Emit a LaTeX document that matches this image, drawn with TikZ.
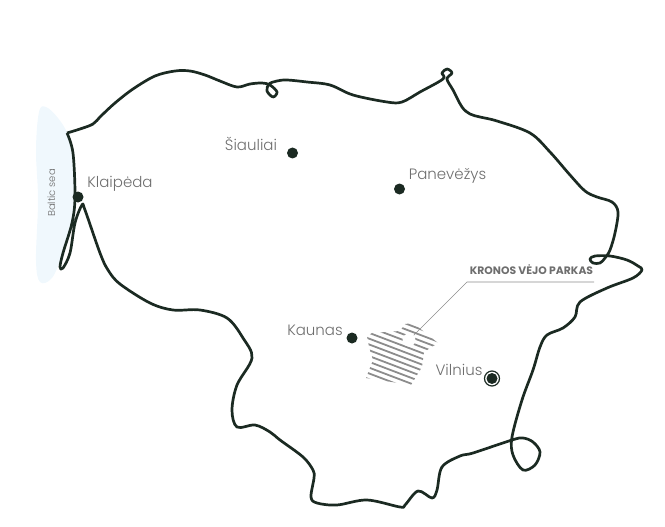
\documentclass[tikz,border=0pt]{standalone}
\usepackage{fontspec}
\setmainfont{Poppins Light}[BoldFont={Poppins Bold}]
\definecolor{border}{HTML}{1B2A22}
\definecolor{sea}{HTML}{F0F8FD}
\definecolor{labelgray}{HTML}{6E6E6E}
\definecolor{hatchgray}{HTML}{8C8C8C}
\tikzset{
  citydot/.style={circle,fill=border,inner sep=0pt,minimum size=11pt},
  citylabel/.style={text=labelgray,font=\fontsize{15}{17}\selectfont,inner sep=0pt},
}

\begin{document}
\begin{tikzpicture}[x=1pt,y=-1pt]
\useasboundingbox (0,0) rectangle (665,527);

% sea
\fill [sea] plot [smooth cycle,tension=.6] coordinates {(39,112) (46,107) (58,118) (68,135) (73,160) (74,197) (71,225) (62,255) (52,278) (40,282) (36,260) (38,200) (36,150)};
\node [citylabel,rotate=90,font=\fontsize{10}{12}\selectfont] (sealabel) at (51.5,193) {Baltic sea};

% park
\begin{scope}
\clip (367,336) -- (372,333) -- (400,331) -- (405,324) -- (413,323) -- (438,343) -- (424,352) -- (422,367) -- (411,385) -- (366,378) -- (373,360) -- (369,347) -- cycle;
\foreach \y in {285,290.8,...,385}
  \draw [hatchgray,line width=1.8pt] (350,\y) -- (450,\y+38);
\end{scope}
\node [circle,fill=white,inner sep=0pt,minimum size=13pt] (parkhole) at (409,340) {};

\node [text=labelgray,font=\fontsize{10.8}{12}\selectfont\bfseries,inner sep=0pt] (parklabel) at (531.5,270) {KRONOS VĖJO PARKAS};
\coordinate (leaderend) at (594,282);
\coordinate (leaderknee) at (467,282);
\draw [hatchgray,line width=.6pt] (leaderend) -- (leaderknee) -- (parkhole);

% border
\draw [border,line width=2.7pt,line join=round] plot [smooth,tension=.55] coordinates {
  (67,133) (80,129) (93,124) (101,116) (115,103) (133,89) (155,76) (175,71) (190,71) (205,75) (220,81) (237,87) (250,84) (262,83)
  (270,85) (277,92) (273,97) (267,91) (269,84) (277,81) (287,80) (307,82) (330,85) (353,95) (387,102) (402,102) (420,92) (443,79)
  (442,73) (447,69) (452,73) (447,79) (453,90) (462,107) (470,114) (480,117) (497,121) (530,133) (550,152) (570,175) (585,191) (597,197)
  (612,202) (618,212) (615,233) (610,250) (605,258) (600,263) (593,263) (590,259) (595,256) (610,256) (627,260) (638,266) (642,270)
  (633,278) (607,288) (580,302) (575,317) (563,328) (547,335) (540,347) (533,370) (522,400) (512,437) (513,455) (523,470) (535,465)
  (540,452) (533,442) (523,438) (512,440) (473,453) (460,456) (442,467) (437,490) (432,498) (418,491) (405,505) (400,507) (367,500)
  (337,505) (317,503) (311,497) (314,478) (313,470) (303,457) (280,440) (270,432) (255,425) (237,427) (232,410) (237,385) (252,358)
  (243,338) (227,318) (200,310) (173,310) (150,303) (120,284) (108,270) (100,253) (85,210) (82,205) (75,223) (70,253) (63,268)
  (60,267) (63,253) (72,223) (75,197) (73,153) (67,133)};

% cities
\node [citydot] (klaipeda) at (78,197) {};
\node [citydot] (siauliai) at (292.5,153) {};
\node [citydot] (panevezys) at (399.5,189) {};
\node [citydot] (kaunas) at (352,338) {};
\node [citydot] (vilnius) at (492,378.5) {};
\node [circle,draw=border,line width=1.2pt,inner sep=0pt,minimum size=15pt] (vilniusring) at (vilnius) {};

\node [citylabel] (klaipedalabel) at (120,184) {Klaipėda};
\node [citylabel] (siauliailabel) at (251,144) {Šiauliai};
\node [citylabel] (panevezyslabel) at (447.5,175.5) {Panevėžys};
\node [citylabel] (kaunaslabel) at (315,330) {Kaunas};
\node [citylabel] (vilniuslabel) at (459,369.5) {Vilnius};
\end{tikzpicture}
\end{document}
